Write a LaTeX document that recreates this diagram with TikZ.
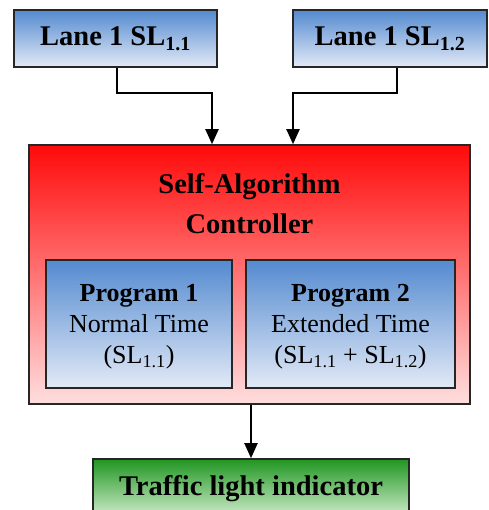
\documentclass[tikz,border=0pt]{standalone}
\usepackage{fontspec}
\setmainfont{Liberation Serif}
\usepackage{tikz}
\usetikzlibrary{positioning, arrows.meta, calc}
\usepackage{xcolor}
\definecolor{box-blue}{RGB}{84,138,208}
\definecolor{box-blue-light}{RGB}{226,234,246}
\definecolor{box-red}{RGB}{255,10,10}
\definecolor{box-red-light}{RGB}{255,222,222}
\definecolor{box-green}{RGB}{32,150,32}
\definecolor{box-green-light}{RGB}{214,240,212}

\begin{document}
\begin{tikzpicture}[x=1pt, y=-1pt,
		box/.style={rectangle, draw=black!85, line width=1.6pt, inner sep=0pt, align=center},
		bluebox/.style={box, top color=box-blue, bottom color=box-blue-light},
		head/.style={font=\fontsize{28.5}{40}\selectfont\bfseries, align=center},
		prog/.style={bluebox, font=\fontsize{26}{31}\selectfont, minimum height=128pt, text depth=-18pt},
		arr/.style={-{Triangle[length=15pt, width=13pt]}, line width=2pt}]
			\useasboundingbox (0,0) rectangle (488,510);
			\node[bluebox, head, minimum width=203pt, minimum height=57pt] (lane1) at (115.5,38.5) {Lane 1 SL\textsubscript{1.1}};
			\node[bluebox, head, minimum width=194pt, minimum height=57pt] (lane2) at (390,38.5) {Lane 1 SL\textsubscript{1.2}};
			\node[box, top color=box-red, bottom color=box-red-light, minimum width=441pt, minimum height=259pt] (ctrl) at (249.5,274.5) {};
			\node[head] (title) at (249.5,204) {Self-Algorithm\\Controller};
			\node[prog, minimum width=186pt] (prog1) at (139,324) {\textbf{Program 1}\\Normal Time\\(SL\textsubscript{1.1})};
			\node[prog, minimum width=209pt] (prog2) at (350.5,324) {\textbf{Program 2}\\Extended Time\\(SL\textsubscript{1.1} + SL\textsubscript{1.2})};
			\node[box, head, top color=box-green, bottom color=box-green-light, minimum width=316pt, minimum height=60pt] (light) at (251,489) {Traffic light indicator};
			%arrows into the controller
			\draw[arr] ([xshift=1.5pt]lane1.south) -- ++(0,25) -| ([xshift=-37.5pt]ctrl.north);
			\draw[arr] ([xshift=6.5pt]lane2.south) -- ++(0,25) -| ([xshift=43.5pt]ctrl.north);
			\draw[arr] (ctrl.south -| light.north) -- (light.north);
		\end{tikzpicture}
\end{document}
